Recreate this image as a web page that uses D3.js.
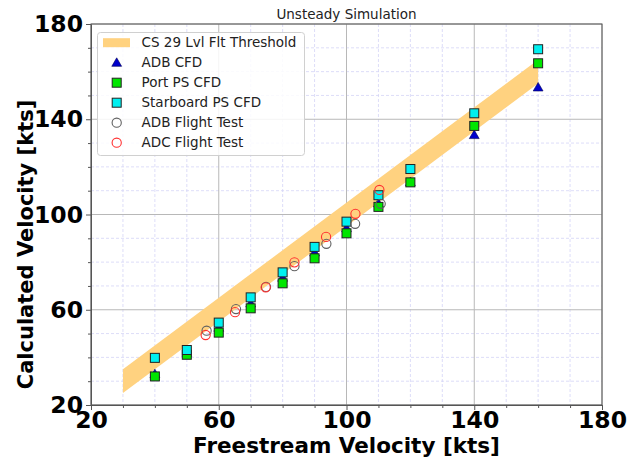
<!DOCTYPE html>
<html>
<head>
<meta charset="utf-8">
<script src="https://cdn.jsdelivr.net/npm/d3@7/dist/d3.min.js"></script>
<style>
  html, body { margin: 0; padding: 0; background: #fff; }
  svg { display: block; font-family: "DejaVu Sans", sans-serif; }
</style>
</head>
<body>
<svg id="chart" width="627" height="461"></svg>
<script>
// Axis ticks
const majorTicks = [20, 60, 100, 140, 180];
const minorTicks = [30, 40, 50, 70, 80, 90, 110, 120, 130, 150, 160, 170];

// CS 29 level flight threshold band (freestream vs. lower/upper bound)
const bandX = [30, 160];
const bandLower = [25, 155];
const bandUpper = [35, 165];

// CFD results
const cfdSpeeds = [40, 50, 60, 70, 80, 90, 100, 110, 120, 140, 160];
const adbCfd = [33.0, 42.0, 52.5, 62.7, 73.5, 84.1, 94.3, 104.7, 113.6, 133.4, 153.4];
const portCfd = [32.0, 41.1, 50.4, 60.6, 71.1, 81.6, 92.1, 103.2, 113.5, 137.2, 163.5];
const starboardCfd = [39.8, 43.1, 54.6, 65.2, 75.7, 86.4, 97.0, 108.1, 119.1, 142.5, 169.4];

// Flight test results
const adbFtSpeeds = [56.2, 65.4, 74.8, 83.7, 93.7, 102.7, 110.7];
const adbFt = [51.2, 60.3, 69.6, 78.3, 87.7, 96.1, 104.5];
const adcFtSpeeds = [55.9, 65.1, 74.7, 83.7, 93.6, 102.8, 110.3];
const adcFt = [49.4, 59.0, 69.4, 79.9, 90.6, 100.3, 110.3];

const legendLabels = ["CS 29 Lvl Flt Threshold", "ADB CFD", "Port PS CFD",
  "Starboard PS CFD", "ADB Flight Test", "ADC Flight Test"];

const svg = d3.select("#chart");
const L = 91, R = 602, T = 24, B = 405;
const x = d3.scaleLinear().domain([20, 180]).range([L, R]);
const y = d3.scaleLinear().domain([20, 180]).range([B, T]);

// minor grid
const grid = svg.append("g");
grid.selectAll(".mgx").data(minorTicks).join("line")
  .attr("x1", d => x(d)).attr("x2", d => x(d)).attr("y1", T).attr("y2", B)
  .attr("stroke", "#d4d4f6").attr("stroke-width", 0.8).attr("stroke-dasharray", "3,2");
grid.selectAll(".mgy").data(minorTicks).join("line")
  .attr("y1", d => y(d)).attr("y2", d => y(d)).attr("x1", L).attr("x2", R)
  .attr("stroke", "#d4d4f6").attr("stroke-width", 0.8).attr("stroke-dasharray", "3,2");
// major grid
grid.selectAll(".Mgx").data(majorTicks).join("line")
  .attr("x1", d => x(d)).attr("x2", d => x(d)).attr("y1", T).attr("y2", B)
  .attr("stroke", "#b8b8b8").attr("stroke-width", 1);
grid.selectAll(".Mgy").data(majorTicks).join("line")
  .attr("y1", d => y(d)).attr("y2", d => y(d)).attr("x1", L).attr("x2", R)
  .attr("stroke", "#b8b8b8").attr("stroke-width", 1);

// threshold band
const bandData = bandX.map((v, i) => ({ x: v, lo: bandLower[i], hi: bandUpper[i] }));
svg.append("path").datum(bandData)
  .attr("d", d3.area().x(d => x(d.x)).y0(d => y(d.lo)).y1(d => y(d.hi)))
  .attr("fill", "#ffd280");

// marker helpers
const tri = d3.symbol().type(d3.symbolTriangle).size(42);
function squares(xs, ys, fill) {
  svg.append("g").selectAll("rect").data(xs).join("rect")
    .attr("x", (d) => x(d) - 4.5).attr("y", (d, i) => y(ys[i]) - 4.5)
    .attr("width", 9).attr("height", 9)
    .attr("fill", fill).attr("stroke", "#222").attr("stroke-width", 1);
}
function circles(xs, ys, stroke) {
  svg.append("g").selectAll("circle").data(xs).join("circle")
    .attr("cx", d => x(d)).attr("cy", (d, i) => y(ys[i])).attr("r", 4.6)
    .attr("fill", "none").attr("stroke", stroke).attr("stroke-width", 1.1);
}

svg.append("g").selectAll("path").data(cfdSpeeds).join("path")
  .attr("d", tri)
  .attr("transform", (d, i) => `translate(${x(d)},${y(adbCfd[i]) + 0.8})`)
  .attr("fill", "#0000cc").attr("stroke", "#000055").attr("stroke-width", 0.6);
squares(cfdSpeeds, portCfd, "#00e600");
squares(cfdSpeeds, starboardCfd, "#00f0f0");
circles(adbFtSpeeds, adbFt, "#606060");
circles(adcFtSpeeds, adcFt, "#ff3030");

// frame
svg.append("rect").attr("x", L).attr("y", T).attr("width", R - L).attr("height", B - T)
  .attr("fill", "none").attr("stroke", "#555").attr("stroke-width", 1);

// axes with major/minor ticks
const xAxis = svg.append("g").attr("transform", `translate(0,${B})`)
  .call(d3.axisBottom(x).tickValues(majorTicks).tickSize(5).tickSizeOuter(0).tickPadding(1));
const yAxis = svg.append("g").attr("transform", `translate(${L},0)`)
  .call(d3.axisLeft(y).tickValues(majorTicks).tickSize(5).tickSizeOuter(0).tickPadding(3));
svg.append("g").attr("transform", `translate(0,${B})`)
  .call(d3.axisBottom(x).tickValues(minorTicks).tickSize(3).tickSizeOuter(0).tickFormat(""))
  .call(g => g.select(".domain").remove());
svg.append("g").attr("transform", `translate(${L},0)`)
  .call(d3.axisLeft(y).tickValues(minorTicks).tickSize(3).tickSizeOuter(0).tickFormat(""))
  .call(g => g.select(".domain").remove());
svg.selectAll(".tick line").attr("stroke", "#555");
svg.selectAll(".domain").attr("stroke", "#555");
[xAxis, yAxis].forEach(g => g.selectAll("text")
  .attr("font-family", "DejaVu Sans").attr("font-weight", "bold")
  .attr("font-size", 23.5).attr("fill", "#000"));

// titles and axis labels
svg.append("text").attr("x", (L + R) / 2).attr("y", 19).attr("text-anchor", "middle")
  .attr("font-size", 13.5).attr("fill", "#222").text("Unsteady Simulation");
svg.append("text").attr("x", (L + R) / 2).attr("y", 453).attr("text-anchor", "middle")
  .attr("font-size", 21.5).attr("font-weight", "bold").text("Freestream Velocity [kts]");
svg.append("text").attr("transform", `translate(33,${(T + B) / 2 + 30}) rotate(-90)`)
  .attr("text-anchor", "middle")
  .attr("font-size", 21).attr("font-weight", "bold").text("Calculated Velocity [kts]");

// legend
const lg = svg.append("g");
lg.append("rect").attr("x", 97.5).attr("y", 32.5).attr("width", 207).attr("height", 123)
  .attr("rx", 3).attr("fill", "#fff").attr("fill-opacity", 0.85)
  .attr("stroke", "#d0d0d0").attr("stroke-width", 1);
const rowY = legendLabels.map((d, i) => 42.7 + i * 20);
lg.selectAll("text").data(legendLabels).join("text")
  .attr("x", 141.5).attr("y", (d, i) => rowY[i]).attr("dy", "0.35em")
  .attr("font-size", 13.5).attr("fill", "#222").text(d => d);
lg.append("rect").attr("x", 103).attr("y", rowY[0] - 4.5).attr("width", 27).attr("height", 9)
  .attr("fill", "#ffd280");
lg.append("path").attr("d", tri).attr("transform", `translate(116.7,${rowY[1] + 0.8})`)
  .attr("fill", "#0000cc").attr("stroke", "#000055").attr("stroke-width", 0.6);
lg.append("rect").attr("x", 112.2).attr("y", rowY[2] - 4.5).attr("width", 9).attr("height", 9)
  .attr("fill", "#00e600").attr("stroke", "#222");
lg.append("rect").attr("x", 112.2).attr("y", rowY[3] - 4.5).attr("width", 9).attr("height", 9)
  .attr("fill", "#00f0f0").attr("stroke", "#222");
lg.append("circle").attr("cx", 116.7).attr("cy", rowY[4]).attr("r", 4.6)
  .attr("fill", "none").attr("stroke", "#606060").attr("stroke-width", 1.1);
lg.append("circle").attr("cx", 116.7).attr("cy", rowY[5]).attr("r", 4.6)
  .attr("fill", "none").attr("stroke", "#ff3030").attr("stroke-width", 1.1);
</script>
</body>
</html>
